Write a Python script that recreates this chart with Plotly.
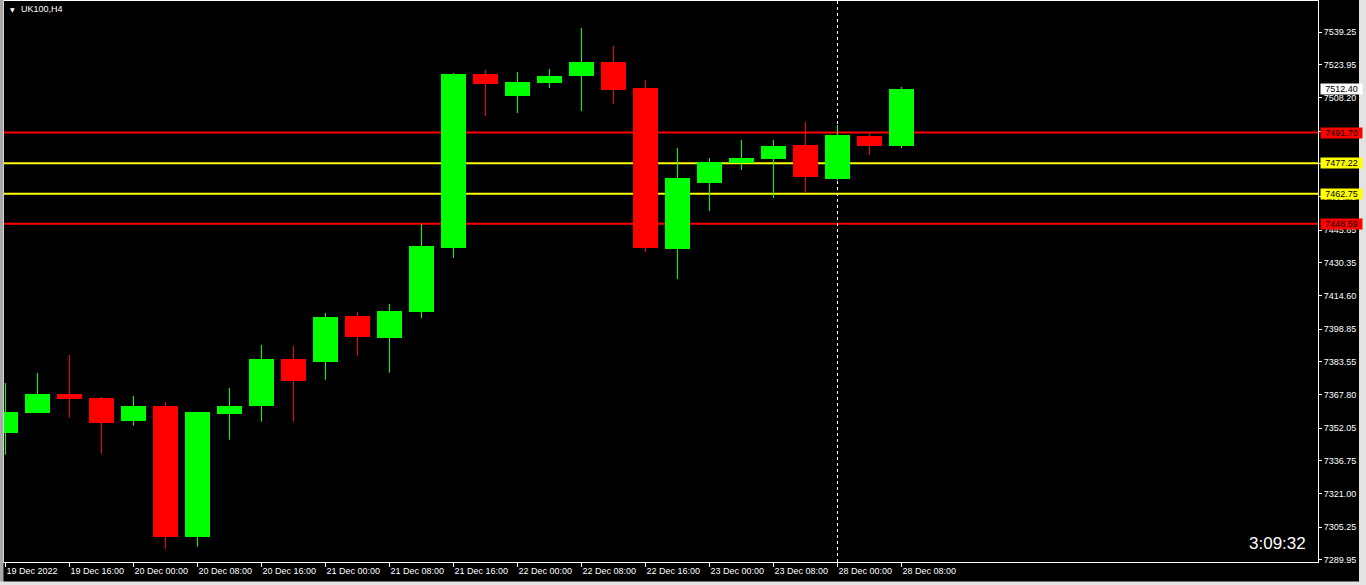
import plotly.graph_objects as go

# ---------------- data (UK100, H4) ----------------
times = [
    "19 Dec 08:00", "19 Dec 12:00", "19 Dec 16:00", "19 Dec 20:00",
    "20 Dec 00:00", "20 Dec 04:00", "20 Dec 08:00", "20 Dec 12:00",
    "20 Dec 16:00", "20 Dec 20:00", "21 Dec 00:00", "21 Dec 04:00",
    "21 Dec 08:00", "21 Dec 12:00", "21 Dec 16:00", "21 Dec 20:00",
    "22 Dec 00:00", "22 Dec 04:00", "22 Dec 08:00", "22 Dec 12:00",
    "22 Dec 16:00", "22 Dec 20:00", "23 Dec 00:00", "23 Dec 04:00",
    "23 Dec 08:00", "23 Dec 12:00", "28 Dec 00:00", "28 Dec 04:00",
    "28 Dec 08:00",
]
opens = [7349.88, 7359.33, 7368.17, 7366.28, 7355.55, 7362.50, 7300.73, 7358.86,
         7362.64, 7384.71, 7383.43, 7405.03, 7394.63, 7406.92, 7437.17, 7519.40,
         7509.00, 7515.15, 7518.46, 7525.07, 7512.78, 7436.70, 7467.89, 7477.20,
         7479.23, 7485.85, 7469.78, 7490.10, 7485.37]
highs = [7373.37, 7378.09, 7386.60, 7366.75, 7367.22, 7364.39, 7359.66, 7371.00,
         7391.33, 7390.85, 7406.45, 7406.92, 7410.70, 7448.51, 7519.87, 7521.29,
         7520.35, 7521.76, 7541.14, 7532.63, 7516.57, 7484.43, 7479.70, 7488.21,
         7488.21, 7496.72, 7495.30, 7491.04, 7513.26]
lows = [7339.48, 7359.33, 7356.97, 7339.95, 7353.19, 7295.06, 7296.00, 7346.57,
        7355.08, 7355.08, 7374.93, 7386.27, 7378.24, 7404.09, 7432.44, 7499.55,
        7500.97, 7512.78, 7501.91, 7505.22, 7435.28, 7422.52, 7454.65, 7474.03,
        7460.80, 7463.16, 7469.30, 7481.12, 7484.43]
closes = [7359.66, 7368.17, 7365.81, 7354.61, 7362.50, 7300.73, 7359.66, 7362.50,
          7384.71, 7374.45, 7404.56, 7395.11, 7407.39, 7438.11, 7519.40, 7514.67,
          7515.62, 7518.46, 7525.07, 7511.84, 7437.17, 7470.25, 7477.81, 7479.70,
          7485.37, 7470.72, 7490.57, 7485.37, 7512.40]

x_tick_labels = ["19 Dec 2022", "19 Dec 16:00", "20 Dec 00:00", "20 Dec 08:00",
                 "20 Dec 16:00", "21 Dec 00:00", "21 Dec 08:00", "21 Dec 16:00",
                 "22 Dec 00:00", "22 Dec 08:00", "22 Dec 16:00", "23 Dec 00:00",
                 "23 Dec 08:00", "28 Dec 00:00", "28 Dec 08:00"]
y_tick_values = [7539.25, 7523.95, 7508.20, 7492.45, 7477.15, 7461.40, 7445.65,
                 7430.35, 7414.60, 7398.85, 7383.55, 7367.80, 7352.05, 7336.75,
                 7321.00, 7305.25, 7289.95]

red_levels = [7491.70, 7448.59]
yellow_levels = [7477.22, 7462.75]
vline_time = "28 Dec 00:00"
symbol_label = "UK100,H4"
timer_label = "3:09:32"

# ---------------- styling ----------------
W, H = 1366, 585
L_M, R_M, T_M, B_M = 4, 48, 1, 23
UP, DOWN = "#00FF00", "#FF0000"
FONT = "Liberation Sans, Arial, sans-serif"


def px_x(px):
    return (px - L_M) / (W - L_M - R_M)


def px_y(py):
    return (H - B_M - py) / (H - T_M - B_M)


idx = list(range(len(times)))
colors = [UP if c >= o else DOWN for o, c in zip(opens, closes)]

fig = go.Figure()

# wicks
for col in (UP, DOWN):
    wx, wy = [], []
    for i, o, h, l, c in zip(idx, opens, highs, lows, closes):
        if (UP if c >= o else DOWN) == col:
            wx += [i, i, None]
            wy += [l, h, None]
    fig.add_trace(go.Scatter(x=wx, y=wy, mode="lines",
                             line=dict(color=col, width=1),
                             hoverinfo="skip", showlegend=False))

# bodies
fig.add_trace(go.Bar(
    x=idx,
    base=[min(o, c) for o, c in zip(opens, closes)],
    y=[abs(c - o) for o, c in zip(opens, closes)],
    width=0.78,
    marker=dict(color=colors, line=dict(width=0)),
    hoverinfo="skip", showlegend=False,
))

shapes = []
for lv in red_levels:
    shapes.append(dict(type="line", xref="paper", x0=0, x1=1, yref="y", y0=lv, y1=lv,
                       line=dict(color="#FF0000", width=2), layer="below"))
for lv in yellow_levels:
    shapes.append(dict(type="line", xref="paper", x0=0, x1=1, yref="y", y0=lv, y1=lv,
                       line=dict(color="#FFFF00", width=2), layer="below"))
vx = times.index(vline_time)
shapes.append(dict(type="line", xref="x", x0=vx, x1=vx, yref="paper", y0=0, y1=1,
                   line=dict(color="white", width=1, dash="3px,3px"), layer="below"))
# window border
shapes.append(dict(type="rect", xref="paper", yref="paper",
                   x0=px_x(0), x1=px_x(3.5), y0=px_y(H), y1=px_y(0),
                   fillcolor="#a8a8a8", line=dict(width=0)))
shapes.append(dict(type="rect", xref="paper", yref="paper",
                   x0=px_x(0), x1=px_x(W), y0=px_y(H), y1=px_y(581.5),
                   fillcolor="#e3e3e3", line=dict(width=0)))
shapes.append(dict(type="rect", xref="paper", yref="paper",
                   x0=px_x(1359), x1=px_x(W), y0=px_y(H), y1=px_y(0),
                   fillcolor="#e3e3e3", line=dict(width=0)))

annotations = []
price_tags = [(closes[-1], "white")] + [(v, "#FF0000") for v in red_levels] + \
             [(v, "#FFFF00") for v in yellow_levels]
for val, bg in price_tags:
    annotations.append(dict(xref="paper", x=px_x(1320), yref="y", y=val,
                            xanchor="left", yanchor="middle", showarrow=False,
                            text=f"{val:.2f}", bgcolor=bg, width=41, height=10,
                            borderpad=0, align="center",
                            font=dict(family=FONT, size=9, color="black")))
annotations.append(dict(xref="paper", x=px_x(12), yref="paper", y=px_y(9.5),
                        xanchor="center", yanchor="middle", showarrow=False,
                        text="▼", font=dict(family="DejaVu Sans", size=6, color="white")))
annotations.append(dict(xref="paper", x=px_x(19), yref="paper", y=px_y(9.5),
                        xanchor="left", yanchor="middle", showarrow=False,
                        text=symbol_label, font=dict(family=FONT, size=9, color="white")))
annotations.append(dict(xref="paper", x=px_x(1308), yref="paper", y=px_y(543.5),
                        xanchor="right", yanchor="middle", showarrow=False,
                        text=timer_label, font=dict(family=FONT, size=17, color="white")))

x_left = -(5.5 - L_M) / 32
x_right = x_left + (W - L_M - R_M) / 32
p_top = 7539.25 + (32 - T_M) * 0.4726
p_bot = 7539.25 - (H - B_M - 32) * 0.4726

fig.update_layout(
    width=W, height=H,
    margin=dict(l=L_M, r=R_M, t=T_M, b=B_M, pad=0),
    paper_bgcolor="black", plot_bgcolor="black",
    barmode="overlay", bargap=0, hovermode=False,
    shapes=shapes, annotations=annotations,
    xaxis=dict(range=[x_left, x_right], tickmode="array",
               tickvals=idx[::2], ticktext=x_tick_labels,
               ticks="outside", ticklen=4, tickcolor="white", tickwidth=1,
               ticklabelposition="outside right",
               showgrid=False, zeroline=False, showline=True, linecolor="white",
               linewidth=1, mirror=True, fixedrange=True,
               tickfont=dict(family=FONT, size=9, color="white")),
    yaxis=dict(range=[p_bot, p_top], side="right", tickmode="array",
               tickvals=y_tick_values, ticktext=[f"{v:.2f}" for v in y_tick_values],
               ticks="outside", ticklen=3, tickcolor="white", tickwidth=1,
               showgrid=False, zeroline=False, showline=True, linecolor="white",
               linewidth=1, mirror=True, fixedrange=True,
               tickfont=dict(family=FONT, size=9, color="white")),
)

fig.write_html(
    "out.html",
    config={"displayModeBar": False},
    post_script="document.body.style.margin='0';document.body.style.padding='0';"
                "document.body.style.overflow='hidden';",
)
